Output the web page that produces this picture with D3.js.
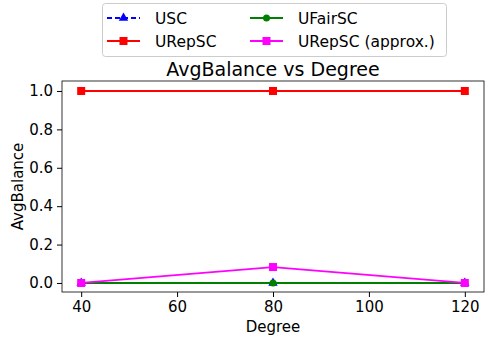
<!DOCTYPE html>
<html>
<head>
<meta charset="utf-8">
<script src="https://cdn.jsdelivr.net/npm/d3@7"></script>
<style>
body { margin: 0; background: #fff; }
svg { font-family: "DejaVu Sans", sans-serif; }
</style>
</head>
<body>
<svg id="chart"></svg>
<script>
// data
var degrees = [40, 80, 120];
var uscValues = [0, 0, 0];
var urepscValues = [1, 1, 1];
var ufairscValues = [0, 0, 0];
var approxValues = [0, 0.083, 0];
var approxErr = [0, 0.012, 0];
var yTicks = [0, 0.2, 0.4, 0.6, 0.8, 1.0];
var xTicks = [40, 60, 80, 100, 120];

var series = [
    { name: "USC", values: uscValues, color: "#0000ff", marker: "triangle", dash: "5,3" },
    { name: "URepSC", values: urepscValues, color: "#ff0000", marker: "square", dash: null },
    { name: "UFairSC", values: ufairscValues, color: "#008000", marker: "circle", dash: null },
    { name: "URepSC (approx.)", values: approxValues, color: "#ff00ff", marker: "square", dash: null, err: approxErr }
];

var dimensions = {
    width: 485,
    height: 339,
    margin: { top: 81, bottom: 47, right: 1, left: 62 }
};

var svg = d3.select("#chart")
    .attr("width", dimensions.width)
    .attr("height", dimensions.height);

var xScale = d3.scaleLinear()
    .domain([36, 124])
    .range([dimensions.margin.left, dimensions.width - dimensions.margin.right]);

var yScale = d3.scaleLinear()
    .domain([-0.047, 1.052])
    .range([dimensions.height - dimensions.margin.bottom, dimensions.margin.top]);

// axes
var xAxis = svg.append("g")
    .attr("transform", "translate(0," + (dimensions.height - dimensions.margin.bottom) + ")")
    .call(d3.axisBottom(xScale).tickValues(xTicks).tickSize(5).tickPadding(4).tickFormat(d3.format("d")));

var yAxis = svg.append("g")
    .attr("transform", "translate(" + dimensions.margin.left + ",0)")
    .call(d3.axisLeft(yScale).tickValues(yTicks).tickSize(5).tickPadding(4).tickFormat(d3.format(".1f")));

[xAxis, yAxis].forEach(function(ax) {
    ax.select(".domain").remove();
    ax.selectAll("text").style("font-size", "15px").attr("fill", "#000").style("font-family", "DejaVu Sans");
    ax.selectAll("line").attr("stroke", "#000");
});

// frame
svg.append("rect")
    .attr("x", dimensions.margin.left)
    .attr("y", dimensions.margin.top)
    .attr("width", dimensions.width - dimensions.margin.right - dimensions.margin.left)
    .attr("height", dimensions.height - dimensions.margin.bottom - dimensions.margin.top)
    .attr("fill", "none")
    .attr("stroke", "#000")
    .attr("stroke-width", 0.8);

function drawMarker(g, type, x, y, color, size) {
    if (type === "square") {
        g.append("rect").attr("x", x - size / 2).attr("y", y - size / 2)
            .attr("width", size).attr("height", size).attr("fill", color);
    } else if (type === "circle") {
        g.append("circle").attr("cx", x).attr("cy", y).attr("r", size / 2 - 0.5).attr("fill", color);
    } else {
        g.append("path")
            .attr("d", d3.symbol().type(d3.symbolTriangle).size(size * size * 0.6)())
            .attr("transform", "translate(" + x + "," + y + ")")
            .attr("fill", color);
    }
}

var line = d3.line()
    .x(function(d, i) { return xScale(degrees[i]); })
    .y(function(d) { return yScale(d); });

series.forEach(function(s) {
    var g = svg.append("g");
    g.append("path")
        .datum(s.values)
        .attr("d", line)
        .attr("fill", "none")
        .attr("stroke", s.color)
        .attr("stroke-width", 1.8)
        .attr("stroke-dasharray", s.dash);
    if (s.err) {
        s.values.forEach(function(v, i) {
            if (s.err[i] > 0) {
                g.append("line")
                    .attr("x1", xScale(degrees[i])).attr("x2", xScale(degrees[i]))
                    .attr("y1", yScale(v - s.err[i])).attr("y2", yScale(v + s.err[i]))
                    .attr("stroke", s.color).attr("stroke-width", 1.8);
            }
        });
    }
    s.values.forEach(function(v, i) {
        drawMarker(g, s.marker, xScale(degrees[i]), yScale(v), s.color, 8);
    });
});

// title and labels
svg.append("text")
    .attr("x", (dimensions.margin.left + dimensions.width - dimensions.margin.right) / 2)
    .attr("y", 76)
    .attr("text-anchor", "middle")
    .style("font-size", "19px")
    .text("AvgBalance vs Degree");

svg.append("text")
    .attr("x", (dimensions.margin.left + dimensions.width - dimensions.margin.right) / 2)
    .attr("y", 332)
    .attr("text-anchor", "middle")
    .style("font-size", "15px")
    .text("Degree");

svg.append("text")
    .attr("transform", "rotate(-90)")
    .attr("x", -(dimensions.margin.top + dimensions.height - dimensions.margin.bottom) / 2)
    .attr("y", 23)
    .attr("text-anchor", "middle")
    .style("font-size", "15px")
    .text("AvgBalance");

// legend
var legend = svg.append("g");
legend.append("rect")
    .attr("x", 102.5).attr("y", 3.5)
    .attr("width", 344).attr("height", 53)
    .attr("rx", 3)
    .attr("fill", "#fff")
    .attr("stroke", "#ccc");

var legendPos = [[107, 18], [107, 41], [250, 18], [250, 41]];
series.forEach(function(s, i) {
    var p = legendPos[i];
    legend.append("line")
        .attr("x1", p[0]).attr("x2", p[0] + 33)
        .attr("y1", p[1]).attr("y2", p[1])
        .attr("stroke", s.color).attr("stroke-width", 1.8)
        .attr("stroke-dasharray", s.dash);
    drawMarker(legend, s.marker, p[0] + 16.5, p[1], s.color, 8);
    legend.append("text")
        .attr("x", p[0] + 48).attr("y", p[1] + 5.5)
        .style("font-size", "15.5px")
        .text(s.name);
});
</script>
</body>
</html>
